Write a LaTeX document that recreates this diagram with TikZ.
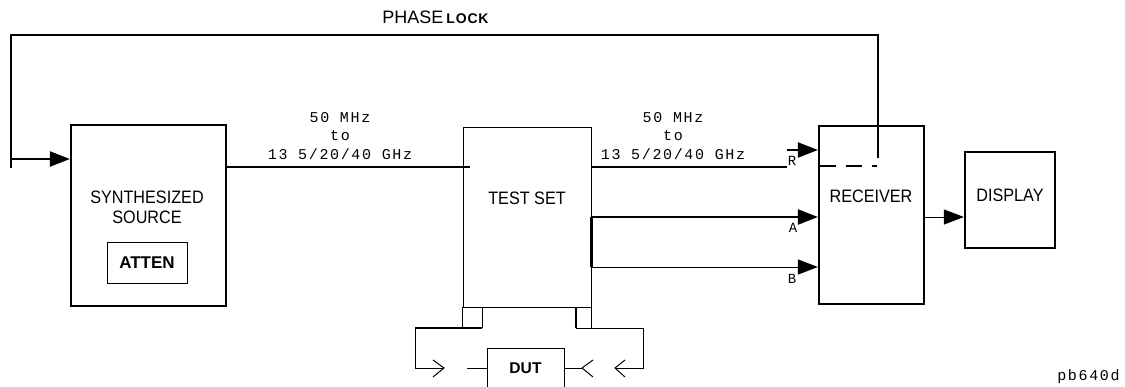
\documentclass[tikz,border=0pt]{standalone}
\usepackage{fontspec}
\setmainfont{Liberation Sans}
\newfontfamily\narrowsans[FakeStretch=0.9]{Liberation Sans}
\newfontfamily\plotfont[LetterSpace=11]{Liberation Mono}
\newfontfamily\widebold[LetterSpace=6]{Liberation Sans}
\usetikzlibrary{arrows.meta}
\tikzset{
  thickw/.style={line width=1.1pt},
  thinw/.style={line width=0.5pt},
  tip/.style={-{Triangle[length=10pt,width=7.5pt]}},
  blk/.style={draw, line width=1.1pt, inner sep=0pt},
  thinblk/.style={draw, line width=0.5pt, inner sep=0pt},
  lbl/.style={inner sep=0pt, font=\narrowsans\fontsize{9}{10}\selectfont},
  plot/.style={inner sep=0pt, align=center, font=\plotfont\fontsize{7.5}{9.3}\selectfont},
  port/.style={inner sep=0pt, font=\plotfont\fontsize{7}{8}\selectfont},
}
\begin{document}
\begin{tikzpicture}[x=0.5pt,y=-0.5pt]
\useasboundingbox (0,0) rectangle (1125,386);
\fill[white] (0,0) rectangle (1125,386);

% boxes
\node[blk, minimum width=77.5pt, minimum height=90.5pt] (synth) at (148.5,215.5) {};
\node[thinblk, minimum width=40pt, minimum height=20.5pt, font=\bfseries\fontsize{8.5}{10}\selectfont] (atten) at (147,262.5) {ATTEN};
\node[thinblk, minimum width=64pt, minimum height=90pt] (testset) at (527,217) {};
\node[blk, minimum width=52.5pt, minimum height=89pt] (receiver) at (871.5,215) {};
\node[blk, minimum width=45pt, minimum height=48pt] (display) at (1010,200) {};
\node[thinblk, minimum width=38.5pt, minimum height=20pt, font=\bfseries\fontsize{7.8}{9}\selectfont] (dut) at (525.5,368) {DUT};

% box labels
\node[lbl] (synthT) at (147,197) {SYNTHESIZED};
\node[lbl] (synthS) at (147,217) {SOURCE};
\node[lbl] (testT) at (527,198) {TEST SET};
\node[lbl] (recvT) at (871,196) {RECEIVER};
\node[lbl] (dispT) at (1010,195) {DISPLAY};

% phase lock loop
\node[inner sep=0pt, anchor=base west] (plabel) at (382,23)
  {\fontsize{9}{10}\selectfont PHASE\hspace{1.5pt}{\widebold\bfseries\fontsize{7}{8}\selectfont LOCK}};
\coordinate (plR) at (878,158);
\coordinate (plTR) at (878,35);
\coordinate (plTL) at (11,35);
\coordinate (plBL) at (11,168);
\coordinate (plIn) at (11,159);
\draw[thickw] (plR) -- (plTR) -- (plTL) -- (plBL);
\draw[thickw, tip] (plIn) -- (plIn -| synth.west);
\coordinate (dashL) at (820,166);
\coordinate (dashR) at (877,166);
\draw[thickw, dash pattern=on 8pt off 5pt] (dashL) -- (dashR);

% source -> test set
\coordinate (y1) at (0,167);
\coordinate (tsIn) at (470,167);
\draw[thickw] (synth.east |- y1) -- (tsIn);
\node[plot] (f1) at (340,136) {50 MHz\\to\\13 5/20/40 GHz};

% test set -> receiver
\node[plot] (f2) at (673,136) {50 MHz\\to\\13 5/20/40 GHz};
\coordinate (rEnd) at (787,167);
\coordinate (rArr) at (787,150);
\draw[thickw] (testset.east |- y1) -- (rEnd);
\draw[thickw, tip] (rArr) -- (rArr -| receiver.west);
\node[port] (rlab) at (792,161) {R};

\coordinate (yA) at (0,217);
\draw[thickw, tip] (testset.east |- yA) -- (receiver.west |- yA);
\node[port] (alab) at (793,228) {A};

\coordinate (yB) at (0,267);
\draw[thinw, tip] (testset.east |- yB) -- (receiver.west |- yB);
\node[port] (blab) at (792,279) {B};

\draw[line width=1.2pt] (testset.east |- yA) -- (testset.east |- yB);

% receiver -> display
\draw[thinw, tip] (receiver.east |- yA) -- (display.west |- yA);

% test ports and cables
\coordinate (p1a) at (462,307);
\coordinate (p1b) at (462,328);
\coordinate (p1c) at (482,307);
\coordinate (p1d) at (482,328);
\draw[thinw] (p1a) -- (p1b);
\draw[thinw] (p1c) -- (p1d);
\coordinate (c1a) at (415,328);
\coordinate (c1b) at (415,368);
\coordinate (c1c) at (444,368);
\draw[thickw] (p1d) -- (c1a);
\draw[thinw] (c1a) -- (c1b) -- (c1c);
\draw[thinw] ([shift={(-11,-8)}]c1c) -- (c1c) -- ([shift={(-11,9)}]c1c);
\coordinate (d1) at (467,368);
\draw[thinw] (d1) -- (dut.west);

\coordinate (p2a) at (576,307);
\coordinate (p2b) at (576,328);
\coordinate (p2c) at (591,307);
\coordinate (p2d) at (591,328);
\draw[thickw] (p2a) -- (p2b);
\draw[thinw] (p2c) -- (p2d);
\coordinate (c2a) at (643,328);
\coordinate (c2b) at (643,368);
\coordinate (c2c) at (615,368);
\draw[thinw] (p2b) -- (c2a) -- (c2b) -- (c2c);
\draw[thinw] ([shift={(10,-8)}]c2c) -- (c2c) -- ([shift={(10,9)}]c2c);
\coordinate (d2) at (582,368);
\draw[thinw] (dut.east) -- (d2);
\draw[thinw] ([shift={(11,-8)}]d2) -- (d2) -- ([shift={(11,9)}]d2);

\node[plot, anchor=east] (tag) at (1120,377) {pb640d};
\end{tikzpicture}
\end{document}
